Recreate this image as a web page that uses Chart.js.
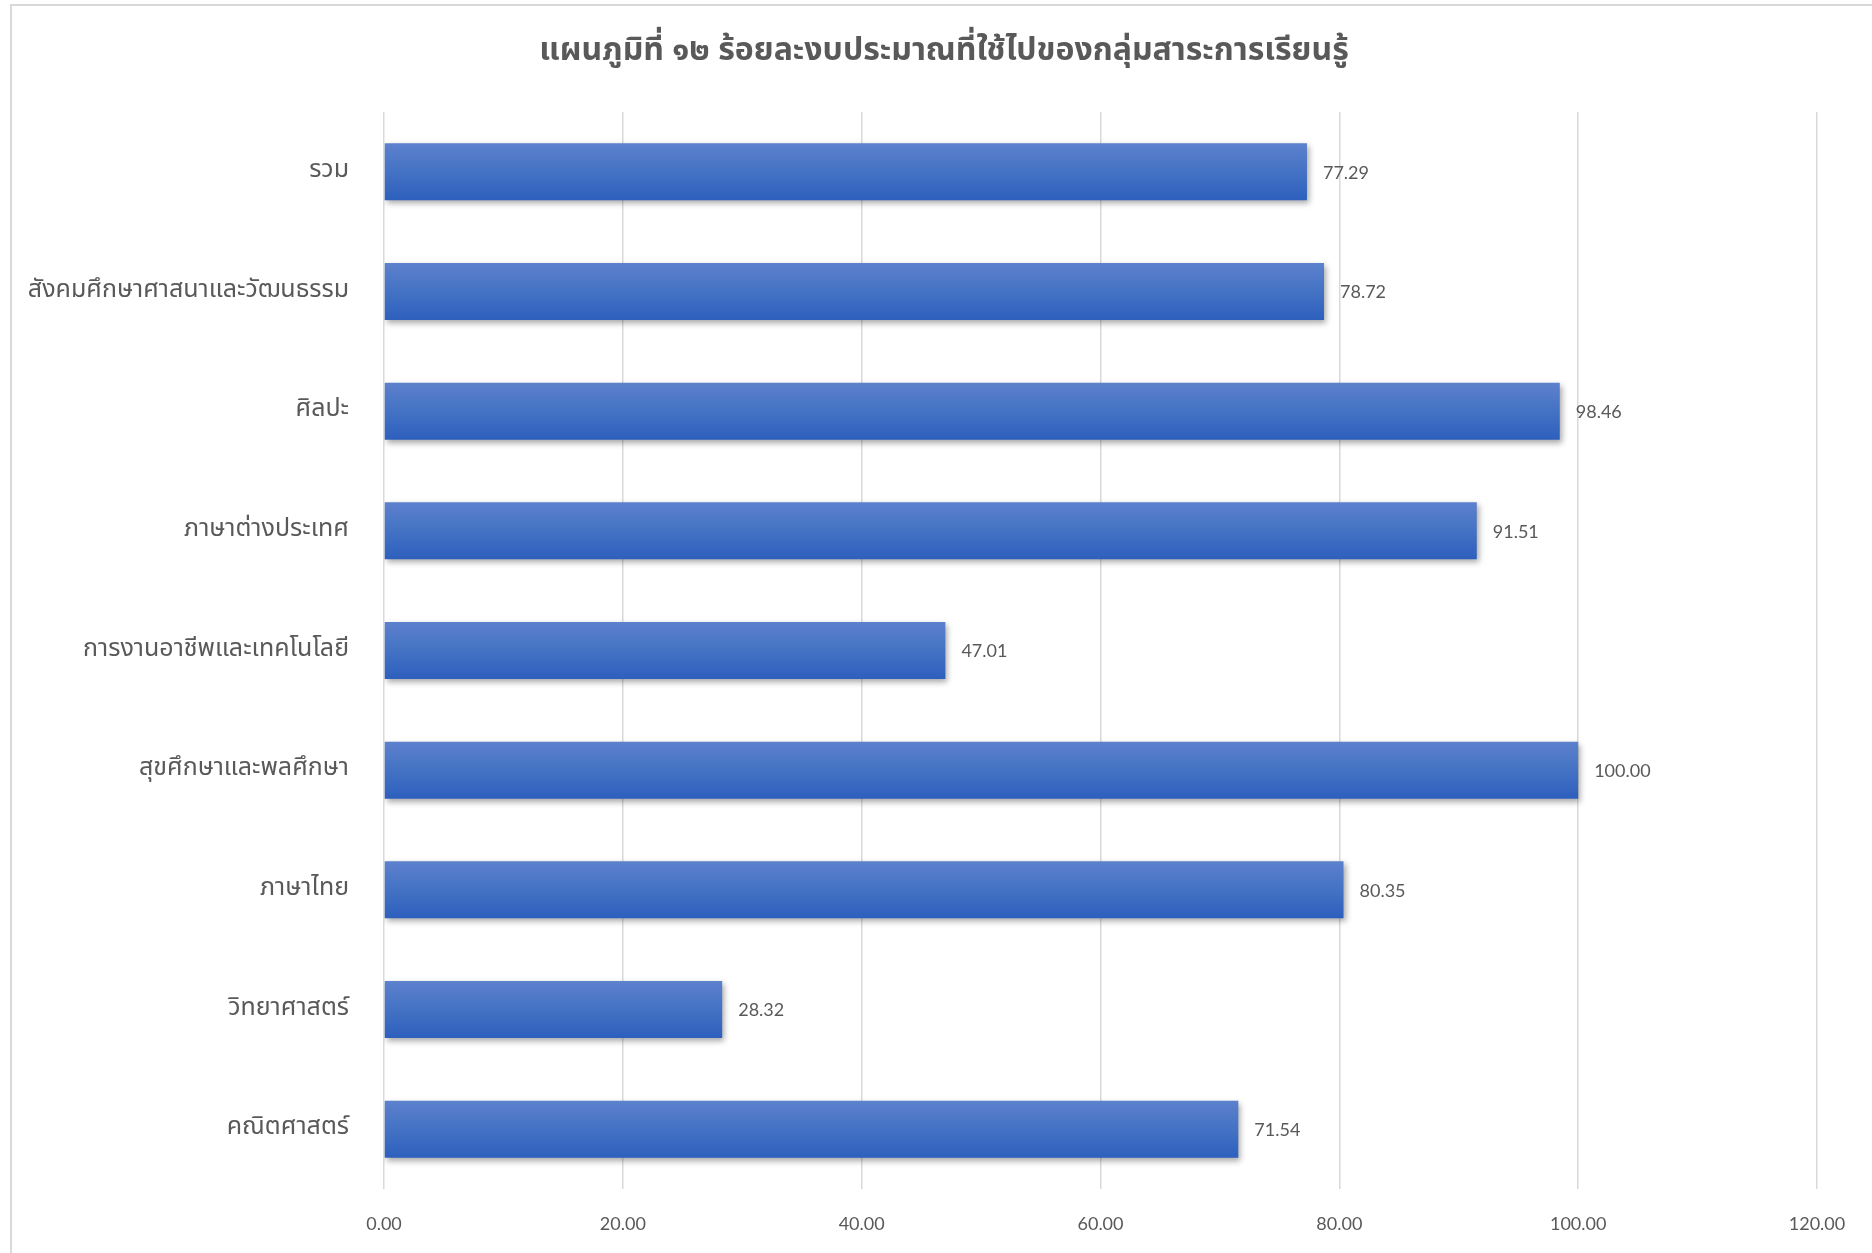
<!DOCTYPE html>
<html>
<head>
<meta charset="utf-8">
<script src="https://cdn.jsdelivr.net/npm/chart.js@4.4.1/dist/chart.umd.min.js"></script>
<style>
  html, body { margin: 0; padding: 0; background: #fff; overflow: hidden; }
  #wrap { position: relative; width: 1872px; height: 1253px; }
  #frame { position: absolute; left: 10px; top: 4px; width: 1900px; height: 1300px;
           border: 2px solid #d9d9d9; box-sizing: border-box; pointer-events: none; }
</style>
</head>
<body>
<div id="wrap">
  <canvas id="myChart" width="1872" height="1253"></canvas>
  <div id="frame"></div>
</div>
<script>
const titleText = 'แผนภูมิที่ ๑๒ ร้อยละงบประมาณที่ใช้ไปของกลุ่มสาระการเรียนรู้';

const subjects = [
  'รวม',
  'สังคมศึกษาศาสนาและวัฒนธรรม',
  'ศิลปะ',
  'ภาษาต่างประเทศ',
  'การงานอาชีพและเทคโนโลยี',
  'สุขศึกษาและพลศึกษา',
  'ภาษาไทย',
  'วิทยาศาสตร์',
  'คณิตศาสตร์'
];

const percentUsed = [77.29, 78.72, 98.46, 91.51, 47.01, 100.00, 80.35, 28.32, 71.54];

const thaiFont = "'Noto Sans Thai', 'Noto Sans Thai UI', 'Noto Sans', sans-serif";
const numFont = "Lato, 'Noto Sans', sans-serif";
const grey = '#595959';
const barPct = 0.476;

// title sits a bit right of the plot centre, like the excel original
const chartTitle = {
  id: 'chartTitle',
  afterDraw(chart) {
    const c = chart.ctx;
    c.save();
    c.font = 'bold 32px ' + thaiFont;
    c.fillStyle = grey;
    c.textAlign = 'center';
    c.textBaseline = 'middle';
    c.fillText(titleText, 944, 54);
    c.restore();
  }
};

// excel-like bar shadow
const shadowPlugin = {
  id: 'barShadow',
  beforeDatasetDraw(chart) {
    const c = chart.ctx;
    c.save();
    c.shadowColor = 'rgba(0,0,0,0.35)';
    c.shadowBlur = 6;
    c.shadowOffsetX = 2;
    c.shadowOffsetY = 3;
  },
  afterDatasetDraw(chart) {
    chart.ctx.restore();
  }
};

// value labels at the bar ends
const valueLabels = {
  id: 'valueLabels',
  afterDatasetsDraw(chart) {
    const c = chart.ctx;
    const meta = chart.getDatasetMeta(0);
    c.save();
    c.font = '18px ' + numFont;
    c.fillStyle = grey;
    c.textAlign = 'left';
    c.textBaseline = 'middle';
    meta.data.forEach((bar, i) => {
      c.fillText(percentUsed[i].toFixed(2), bar.x + 16, bar.y + 1);
    });
    c.restore();
  }
};

function barGradient(context) {
  const chart = context.chart;
  const yScale = chart.scales.y;
  if (!chart.chartArea || !yScale) return '#4472c4';
  const yc = yScale.getPixelForValue(context.dataIndex);
  const h = yScale.height / subjects.length * barPct;
  if (!isFinite(yc) || !isFinite(h) || h <= 0) return '#4472c4';
  const g = chart.ctx.createLinearGradient(0, yc - h / 2, 0, yc + h / 2);
  g.addColorStop(0, '#5d81cd');
  g.addColorStop(0.5, '#4472c4');
  g.addColorStop(1, '#2d5fbd');
  return g;
}

const ctx = document.getElementById('myChart').getContext('2d');

const myChart = new Chart(ctx, {
  type: 'bar',
  data: {
    labels: subjects,
    datasets: [{
      label: 'ร้อยละ',
      data: percentUsed,
      backgroundColor: barGradient,
      borderWidth: 0,
      categoryPercentage: 1,
      barPercentage: barPct
    }]
  },
  options: {
    indexAxis: 'y',
    responsive: false,
    animation: false,
    layout: { padding: { left: 0, right: 55, top: 112, bottom: 0 } },
    plugins: {
      legend: { display: false },
      tooltip: { enabled: false },
      title: { display: false }
    },
    scales: {
      x: {
        min: 0,
        max: 120,
        ticks: {
          stepSize: 20,
          color: grey,
          font: { family: numFont, size: 18 },
          padding: 24,
          callback: v => v.toFixed(2)
        },
        grid: { color: '#d9d9d9', lineWidth: 1.5, drawTicks: false },
        border: { display: false },
        afterFit(scale) { scale.height = 64; }
      },
      y: {
        ticks: {
          color: grey,
          font: { family: thaiFont, size: 25 },
          padding: 35
        },
        grid: { display: false, drawTicks: false },
        border: { display: false },
        afterFit(scale) { scale.width = 384; }
      }
    }
  },
  plugins: [shadowPlugin, valueLabels, chartTitle]
});
</script>
</body>
</html>
